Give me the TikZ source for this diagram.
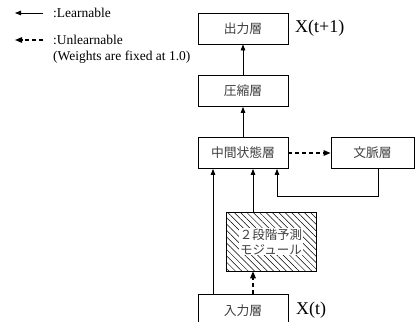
\documentclass[tikz,border=0pt]{standalone}
\usepackage{fontspec}
\setmainfont{Liberation Serif}
\newfontfamily\jfont{Noto Sans CJK JP}
\usetikzlibrary{arrows.meta,patterns.meta}
\begin{document}
\begin{tikzpicture}[x=1pt,y=-1pt,
  layer/.style={draw,line width=0.8pt,minimum width=90pt,minimum height=31pt,inner sep=0pt,font=\jfont\fontsize{12.8}{14}\selectfont,text=black!75},
  lab/.style={font=\fontsize{18}{20}\selectfont,anchor=west,inner sep=0pt},
  leg/.style={font=\fontsize{13.5}{15}\selectfont,anchor=west,inner sep=0pt,align=left},
  solidarrow/.style={line width=0.8pt,-{Triangle[length=6pt,width=4.5pt]}},
  dasharrow/.style={line width=1.3pt,dash pattern=on 4pt off 3pt,-{Triangle[length=7pt,width=5.5pt]}}
]
\useasboundingbox (0,0) rectangle (416,322);
\clip (0,0) rectangle (416,322);
\fill[white] (0,0) rectangle (416,322);
% legend
\coordinate (l1a) at (43,13); \coordinate (l1b) at (15,13);
\coordinate (l2a) at (43,40); \coordinate (l2b) at (15,40);
\draw[solidarrow] (l1a) -- (l1b);
\draw[dasharrow] (l2a) -- (l2b);
\node[leg] (t1) at (53,13) {:Learnable};
\node[leg] (t2) at (53,40) {:Unlearnable};
\node[leg] (t3) at (53,57) {(Weights are fixed at 1.0)};
% layers
\node[layer] (out) at (243,28.5) {出力層};
\node[layer] (cmp) at (243,91) {圧縮層};
\node[layer] (mid) at (243,153) {中間状態層};
\node[layer,minimum width=83pt] (ctx) at (372.5,153) {文脈層};
\node[layer,minimum height=40pt] (inp) at (243,314) {\raisebox{8pt}{入力層}};
\node[lab] (xt1) at (295,28) {X(t+1)};
\node[lab] (xt) at (296,310) {X(t)};
% module
\node[draw,line width=0.8pt,minimum width=90pt,minimum height=59pt,inner sep=0pt,
  pattern={Lines[angle=-45,distance=4.5pt,line width=0.5pt]}] (mod) at (271,241.5) {};
\node[fill=white,inner sep=1pt,align=center,font=\jfont\fontsize{12.5}{15}\selectfont,text=black!75] (modt) at (mod.center) {２段階予測\\モジュール};
% connectors
\draw[solidarrow] (cmp.north) -- (out.south);
\draw[solidarrow] (mid.north) -- (cmp.south);
\draw[dasharrow] (mid.east) -- (ctx.west);
\draw[solidarrow] (ctx.south) ++(5.5,0) coordinate (cs) -- (cs |- 0,196) -| ([xshift=34pt]mid.south);
\draw[solidarrow] ([xshift=-30pt]inp.north) -- ([xshift=-30pt]mid.south);
\draw[solidarrow] (mod.north -| 253,0) -- (253,0 |- mid.south);
\draw[dasharrow] (inp.north -| 253,0) -- (253,0 |- mod.south);
\end{tikzpicture}
\end{document}
